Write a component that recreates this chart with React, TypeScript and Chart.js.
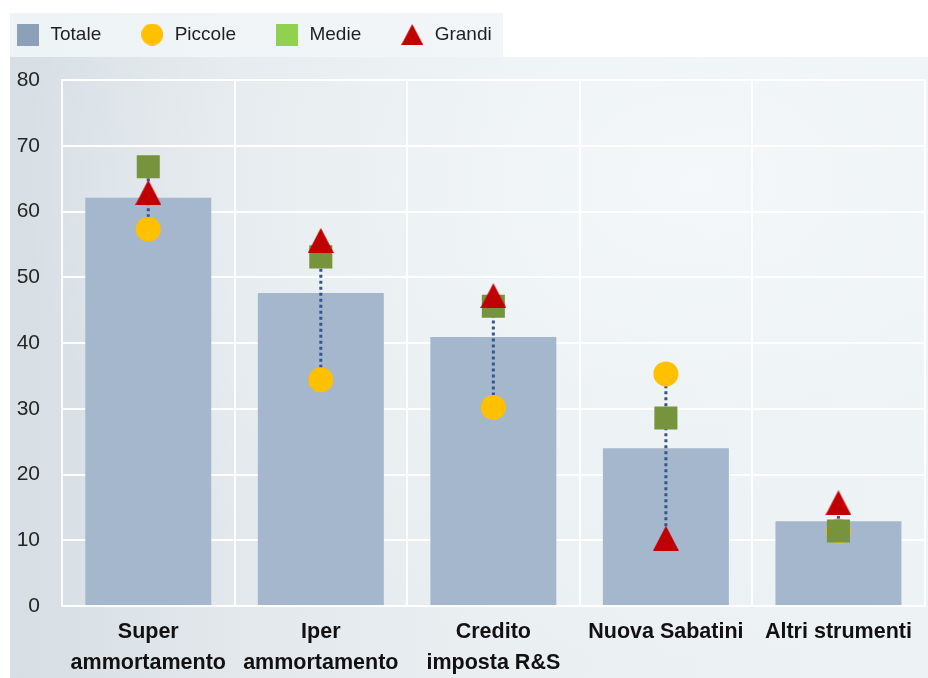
import React, { useEffect, useRef } from 'react';
import { Chart, registerables } from 'chart.js';

Chart.register(...registerables);

// ---- data ----
const categories: (string | string[])[] = [
  ['Super', 'ammortamento'],
  ['Iper', 'ammortamento'],
  ['Credito', 'imposta R&S'],
  'Nuova Sabatini',
  'Altri strumenti',
];
const seriesNames = ['Totale', 'Piccole', 'Medie', 'Grandi'];
const totale = [62.1, 47.6, 40.9, 24.0, 12.9];
const piccole = [57.3, 34.4, 30.2, 35.3, 11.4];
const medie = [66.8, 53.1, 45.6, 28.6, 11.4];
const grandi = [62.9, 55.6, 47.2, 10.3, 15.7];
const yMin = 0;
const yMax = 80;
const yStep = 10;

// ---- styles ----
const FONT = '"Liberation Sans", Arial, sans-serif';
const barColor = '#a4b7cd';
const piccoleColor = '#ffc000';
const medieColor = '#77933c';
const grandiColor = '#c00000';
const legendColors = ['#8ba1ba', '#ffc000', '#92d050', '#c00000'];
const rangeLineColor = '#34568b';
const gridColor = 'rgba(255,255,255,0.95)';

function makeIcon(kind: 'square' | 'circle' | 'triangle', w: number, h: number, color: string) {
  const c = document.createElement('canvas');
  c.width = w;
  c.height = h;
  const g = c.getContext('2d')!;
  g.fillStyle = color;
  g.beginPath();
  if (kind === 'square') g.rect(0, 0, w, h);
  else if (kind === 'circle') g.arc(w / 2, h / 2, Math.min(w, h) / 2, 0, Math.PI * 2);
  else {
    g.moveTo(w / 2, 0);
    g.lineTo(w, h);
    g.lineTo(0, h);
    g.closePath();
  }
  g.fill();
  return c;
}

const rangeLines = {
  id: 'rangeLines',
  afterDatasetDraw(chart: any, args: any) {
    if (args.index !== 0) return;
    const { ctx, scales } = chart;
    const x = scales.x;
    const y = scales.y;
    const ds = chart.data.datasets;
    ctx.save();
    ctx.strokeStyle = rangeLineColor;
    ctx.lineWidth = 3;
    ctx.setLineDash([3, 3]);
    ctx.beginPath();
    for (let i = 0; i < chart.data.labels.length; i++) {
      const vals = [ds[1].data[i], ds[2].data[i], ds[3].data[i]];
      const px = x.getPixelForValue(i);
      ctx.moveTo(px, y.getPixelForValue(Math.min(...vals)));
      ctx.lineTo(px, y.getPixelForValue(Math.max(...vals)));
    }
    ctx.stroke();
    ctx.restore();
  },
};

const LEGEND_BLOCK_HEIGHT = 93;
const legendHeight = {
  id: 'legendHeight',
  afterInit(chart: any) {
    const lg = chart.legend;
    if (!lg || lg._patched) return;
    const orig = lg.fit.bind(lg);
    lg.fit = function () {
      orig();
      this.height = LEGEND_BLOCK_HEIGHT;
    };
    lg._patched = true;
  },
};

export default function App() {
  const ref = useRef<HTMLCanvasElement>(null);

  useEffect(() => {
    if (!ref.current) return;
    const triangle = makeIcon('triangle', 26, 25, grandiColor);
    const legendIcons = [
      makeIcon('square', 22, 22, legendColors[0]),
      makeIcon('circle', 22, 22, legendColors[1]),
      makeIcon('square', 22, 22, legendColors[2]),
      makeIcon('triangle', 22, 21, legendColors[3]),
    ];
    const chart = new Chart(ref.current, {
      type: 'bar',
      data: {
        labels: categories,
        datasets: [
          {
            type: 'bar',
            label: seriesNames[0],
            data: totale,
            backgroundColor: barColor,
            borderWidth: 0,
            barPercentage: 0.73,
            categoryPercentage: 1,
            order: 3,
          },
          {
            type: 'line',
            label: seriesNames[1],
            data: piccole,
            showLine: false,
            pointStyle: 'circle',
            pointRadius: 12.5,
            pointHoverRadius: 12.5,
            pointBorderWidth: 0,
            backgroundColor: piccoleColor,
            borderColor: piccoleColor,
            order: 2,
          },
          {
            type: 'line',
            label: seriesNames[2],
            data: medie,
            showLine: false,
            pointStyle: 'rect',
            pointRadius: 16.3,
            pointHoverRadius: 16.3,
            pointBorderWidth: 0,
            backgroundColor: medieColor,
            borderColor: medieColor,
            order: 1,
          },
          {
            type: 'line',
            label: seriesNames[3],
            data: grandi,
            showLine: false,
            pointStyle: triangle as any,
            pointRadius: 13,
            pointHoverRadius: 13,
            pointBorderWidth: 0,
            backgroundColor: grandiColor,
            borderColor: grandiColor,
            order: 0,
          },
        ] as any,
      },
      options: {
        animation: false,
        responsive: false,
        events: [],
        layout: { padding: { left: 0, right: 3, top: 0, bottom: 0 } },
        plugins: {
          tooltip: { enabled: false },
          legend: {
            display: true,
            position: 'top',
            align: 'start',
            labels: {
              usePointStyle: true,
              pointStyleWidth: 26,
              padding: 38,
              boxWidth: 22,
              boxHeight: 22,
              color: '#1f1f1f',
              font: { family: FONT, size: 19 },
              sort: (a: any, b: any) => a.datasetIndex - b.datasetIndex,
              generateLabels: (c: any) => {
                const items = (Chart.defaults.plugins.legend.labels as any).generateLabels(c);
                return items.map((it: any) => ({ ...it, pointStyle: legendIcons[it.datasetIndex] }));
              },
            },
          },
        },
        scales: {
          x: {
            grid: {
              color: gridColor,
              lineWidth: 2,
              drawTicks: false,
              offset: true,
            },
            border: { display: true, color: gridColor, width: 2 },
            ticks: {
              autoSkip: false,
              maxRotation: 0,
              minRotation: 0,
              padding: 10.5,
              color: '#111111',
              font: { family: FONT, size: 21.5, weight: 'bold', lineHeight: '31px' } as any,
            },
          },
          y: {
            min: yMin,
            max: yMax,
            afterFit: (scale: any) => {
              scale.width = 85;
            },
            grid: {
              color: gridColor,
              lineWidth: 2,
              drawTicks: false,
            },
            border: { display: true, color: gridColor, width: 2 },
            ticks: {
              stepSize: yStep,
              padding: 22,
              color: '#262626',
              font: { family: FONT, size: 21 },
            },
          },
        },
      } as any,
      plugins: [rangeLines, legendHeight],
    });
    return () => chart.destroy();
  }, []);

  return (
    <div
      style={{
        position: 'fixed',
        left: 0,
        top: 0,
        width: 928,
        height: 678,
        overflow: 'hidden',
        background: '#ffffff',
      }}
    >
      <div
        style={{
          position: 'absolute',
          left: 10,
          top: 57,
          width: 918,
          height: 621,
          background:
            'radial-gradient(ellipse at 75% 20%, rgba(244,248,250,0.9) 0%, rgba(240,245,247,0.5) 35%, rgba(240,245,247,0) 70%), linear-gradient(90deg, #d7dee4 0%, #e2e8ec 25%, #eaeff2 55%, #edf2f4 100%)',
        }}
      />
      <div
        style={{
          position: 'absolute',
          left: 10,
          top: 13,
          width: 493,
          height: 44,
          background: 'linear-gradient(90deg, #eef3f5 0%, #f2f6f8 100%)',
        }}
      />
      <canvas
        ref={ref}
        width={964}
        height={702}
        style={{ position: 'absolute', left: -23, top: -13, width: 964, height: 702 }}
      />
    </div>
  );
}
